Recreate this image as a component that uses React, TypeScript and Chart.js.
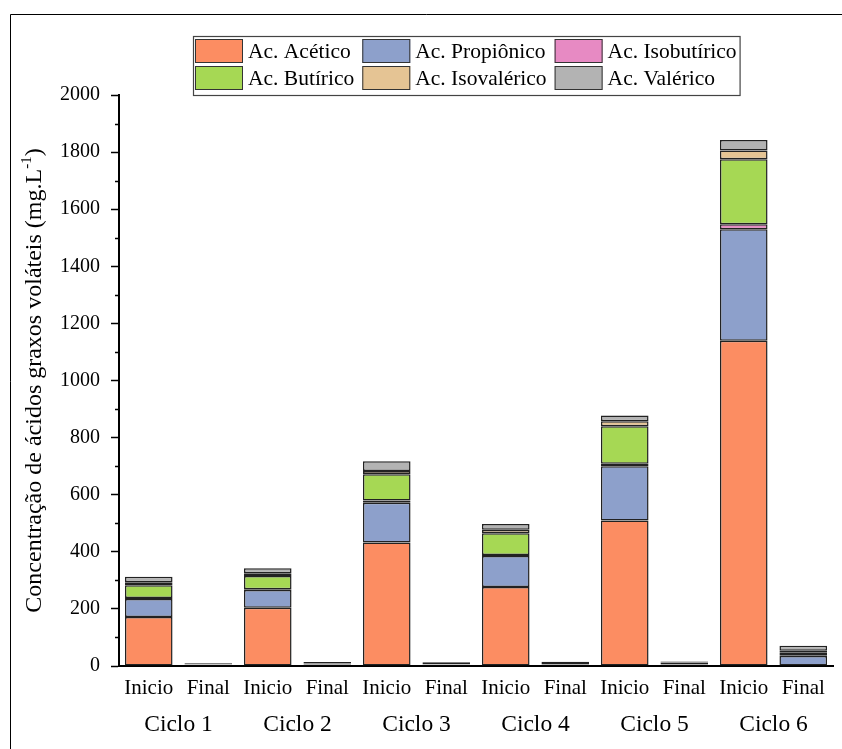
import { useEffect, useRef } from "react";
import { Chart, registerables } from "chart.js";

Chart.register(...registerables);

// Sampling phase of every bar, and the cycle each pair of bars belongs to
const PHASES = ["Inicio", "Final", "Inicio", "Final", "Inicio", "Final", "Inicio", "Final", "Inicio", "Final", "Inicio", "Final"];
const CYCLES = ["Ciclo 1", "Ciclo 2", "Ciclo 3", "Ciclo 4", "Ciclo 5", "Ciclo 6"];

// Volatile fatty acid concentrations (mg/L), stacked bottom to top
const ACETICO = [172, 2, 204, 2, 433, 2, 277, 2, 510, 3, 1139, 0];
const PROPIONICO = [63, 1, 62, 1, 139, 1, 108, 1, 190, 1, 391, 35];
const ISOBUTIRICO = [3, 1, 3, 1, 8, 1, 4, 1, 8, 1, 17, 3];
const BUTIRICO = [45, 1, 46, 1, 92, 1, 76, 1, 132, 2, 228, 8];
const ISOVALERICO = [10, 1, 10, 4, 11, 1, 12, 2, 17, 5, 31, 7];
const VALERICO = [20, 4, 17, 5, 34, 7, 20, 8, 20, 4, 36, 18];

const SERIES_NAMES = ["Ac. Acético", "Ac. Propiônico", "Ac. Isobutírico", "Ac. Butírico", "Ac. Isovalérico", "Ac. Valérico"];
const SERIES_COLORS = ["#FC8D62", "#8DA0CB", "#E78AC3", "#A6D854", "#E5C494", "#B3B3B3"];

const Y_MIN = 0;
const Y_MAX = 2000;
const Y_STEP = 200;

const Y_TITLE = "Concentração de ácidos graxos voláteis (mg.L";
const Y_TITLE_SUP = "-1";
const Y_TITLE_END = ")";

const FONT = '"Liberation Serif", "Times New Roman", serif';

// White page and the outer frame lines
const framePlugin = {
  id: "frame",
  beforeDraw(chart: any) {
    const { ctx, width, height } = chart;
    ctx.save();
    ctx.fillStyle = "#ffffff";
    ctx.fillRect(0, 0, width, height);
    ctx.strokeStyle = "#000";
    ctx.lineWidth = 1;
    ctx.beginPath();
    ctx.moveTo(10.5, height);
    ctx.lineTo(10.5, 14.5);
    ctx.lineTo(width, 14.5);
    ctx.stroke();
    ctx.restore();
  },
};

// Short minor ticks halfway between the labelled y ticks
const minorTicksPlugin = {
  id: "minorTicks",
  afterDraw(chart: any) {
    const y = chart.scales.y;
    const { ctx } = chart;
    ctx.save();
    ctx.strokeStyle = "#000";
    ctx.lineWidth = 1.5;
    ctx.beginPath();
    for (let v = Y_MIN + Y_STEP / 2; v < Y_MAX; v += Y_STEP) {
      const p = Math.round(y.getPixelForValue(v)) + 0.5;
      ctx.moveTo(y.right - 4, p);
      ctx.lineTo(y.right, p);
    }
    ctx.stroke();
    ctx.restore();
  },
};

// Rotated y-axis title with a superscript exponent
const yTitlePlugin = {
  id: "yTitle",
  afterDraw(chart: any) {
    const { ctx, chartArea } = chart;
    const cy = (chartArea.top + chartArea.bottom) / 2;
    ctx.save();
    ctx.translate(35, cy);
    ctx.rotate(-Math.PI / 2);
    ctx.fillStyle = "#000";
    ctx.textBaseline = "middle";
    ctx.textAlign = "left";
    const mainFont = `24px ${FONT}`;
    const supFont = `15px ${FONT}`;
    ctx.font = mainFont;
    const w1 = ctx.measureText(Y_TITLE).width;
    const w3 = ctx.measureText(Y_TITLE_END).width;
    ctx.font = supFont;
    const w2 = ctx.measureText(Y_TITLE_SUP).width;
    let x = -(w1 + w2 + w3) / 2;
    ctx.font = mainFont;
    ctx.fillText(Y_TITLE, x, 0);
    x += w1;
    ctx.font = supFont;
    ctx.fillText(Y_TITLE_SUP, x, -8);
    x += w2;
    ctx.font = mainFont;
    ctx.fillText(Y_TITLE_END, x, 0);
    ctx.restore();
  },
};

// Boxed two-row legend, three columns
const legendPlugin = {
  id: "boxLegend",
  afterDraw(chart: any) {
    const { ctx } = chart;
    const ds = chart.data.datasets;
    const cols = 3;
    const rows = Math.ceil(ds.length / cols);
    const left = 193;
    const top = 36;
    const swW = 48;
    const swH = 24;
    const rowH = 27;
    const textGap = 5;
    const colGap = 8;
    ctx.save();
    ctx.font = `21.5px ${FONT}`;
    const colW: number[] = [];
    for (let c = 0; c < cols; c++) {
      let m = 0;
      for (let r = 0; r < rows; r++) {
        const d = ds[r * cols + c];
        if (d) m = Math.max(m, ctx.measureText(d.label).width);
      }
      colW.push(m);
    }
    const colX: number[] = [];
    let x = left + 2;
    for (let c = 0; c < cols; c++) {
      colX.push(x);
      x += swW + textGap + colW[c] + colGap;
    }
    const right = x - colGap + 3;
    const height = 3 + rows * rowH + 2;
    ctx.fillStyle = "#fff";
    ctx.fillRect(left, top, right - left, height);
    ctx.strokeStyle = "#444";
    ctx.lineWidth = 1.2;
    ctx.strokeRect(left + 0.5, top + 0.5, right - left, height);
    ds.forEach((d: any, i: number) => {
      const r = Math.floor(i / cols);
      const c = i % cols;
      const sx = colX[c];
      const sy = top + 3 + r * rowH;
      ctx.fillStyle = d.backgroundColor;
      ctx.fillRect(sx, sy, swW, swH);
      ctx.strokeStyle = "#333";
      ctx.lineWidth = 1;
      ctx.strokeRect(sx + 0.5, sy + 0.5, swW - 1, swH - 1);
      ctx.fillStyle = "#000";
      ctx.textBaseline = "middle";
      ctx.textAlign = "left";
      ctx.fillText(d.label, sx + swW + textGap, sy + swH / 2 + 1);
    });
    ctx.restore();
  },
};

export default function App() {
  const canvasRef = useRef<HTMLCanvasElement | null>(null);

  useEffect(() => {
    const canvas = canvasRef.current;
    if (!canvas) return;
    const values = [ACETICO, PROPIONICO, ISOBUTIRICO, BUTIRICO, ISOVALERICO, VALERICO];
    const chart = new Chart(canvas, {
      type: "bar",
      data: {
        labels: PHASES,
        datasets: values.map((v, i) => ({
          label: SERIES_NAMES[i],
          data: v,
          backgroundColor: SERIES_COLORS[i],
          borderColor: "#222",
          borderWidth: 1.5,
          borderSkipped: false,
          barPercentage: 0.8,
          categoryPercentage: 1.0,
          xAxisID: "x",
          yAxisID: "y",
        })),
      },
      options: {
        responsive: false,
        animation: false,
        layout: { padding: { top: 95, right: 9, left: 0, bottom: 0 } },
        plugins: {
          legend: { display: false },
          tooltip: { enabled: false },
          title: { display: false },
        },
        scales: {
          x: {
            type: "category",
            position: "bottom",
            stacked: true,
            offset: true,
            grid: { display: false, drawTicks: false },
            border: { display: true, color: "#000", width: 2 },
            ticks: {
              color: "#000",
              font: { family: FONT, size: 21 },
              padding: 10,
              autoSkip: false,
              maxRotation: 0,
            },
            afterFit(scale: any) {
              scale.height = 40;
            },
          },
          x2: {
            type: "category",
            position: "bottom",
            labels: CYCLES,
            offset: true,
            grid: { display: false, drawTicks: false },
            border: { display: false },
            ticks: {
              color: "#000",
              font: { family: FONT, size: 23.5 },
              padding: 5,
              autoSkip: false,
              maxRotation: 0,
            },
            afterFit(scale: any) {
              scale.height = 43;
            },
          },
          y: {
            stacked: true,
            min: Y_MIN,
            max: Y_MAX,
            grid: {
              drawOnChartArea: false,
              drawTicks: true,
              tickLength: 8,
              tickColor: "#000",
              tickWidth: 1.5,
            },
            border: { display: true, color: "#000", width: 2 },
            ticks: {
              stepSize: Y_STEP,
              color: "#000",
              font: { family: FONT, size: 20 },
              padding: 11,
              callback: (v: any) => String(v),
            },
            afterFit(scale: any) {
              scale.width = 119;
            },
          },
        },
      } as any,
      plugins: [framePlugin, minorTicksPlugin, yTitlePlugin, legendPlugin],
    });
    return () => chart.destroy();
  }, []);

  return (
    <div style={{ position: "fixed", left: 0, top: 0, width: 842, height: 749, background: "#fff" }}>
      <canvas ref={canvasRef} width={842} height={749} style={{ display: "block" }} />
    </div>
  );
}
